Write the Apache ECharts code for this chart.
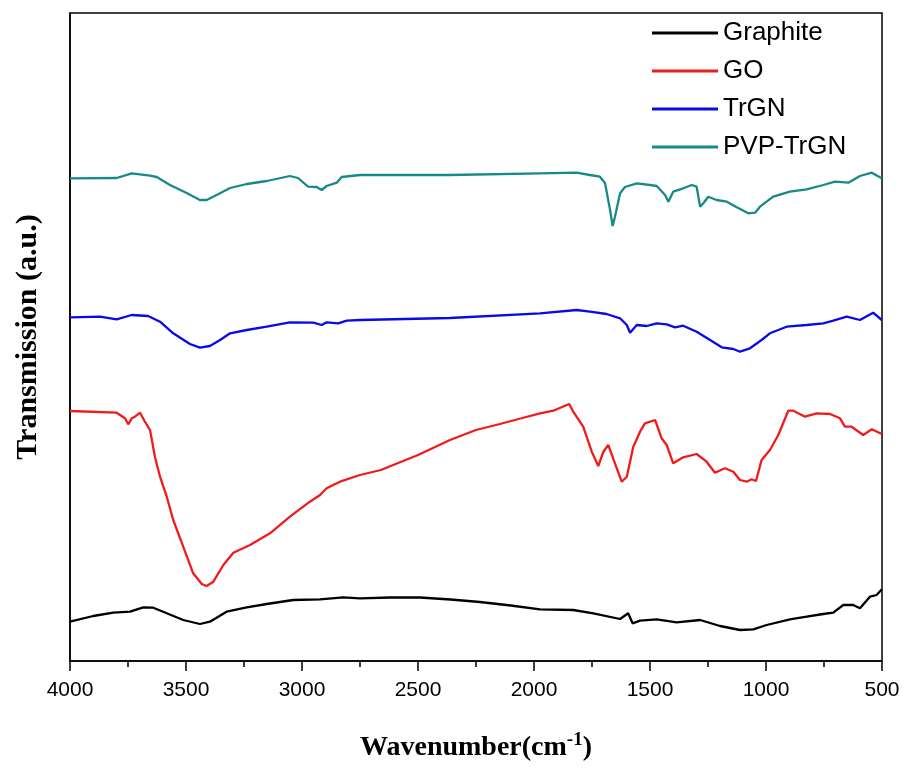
<!DOCTYPE html>
<html>
<head>
<meta charset="utf-8">
<script src="https://cdn.jsdelivr.net/npm/echarts@6/dist/echarts.min.js"></script>
<style>html,body{margin:0;padding:0;background:#fff;}#chart{width:906px;height:769px;}</style>
</head>
<body>
<div id="chart"></div>
<script>
// Wavenumber tick labels (reversed axis)
const xTicks = [4000, 3500, 3000, 2500, 2000, 1500, 1000, 500];
const seriesNames = ['Graphite', 'GO', 'TrGN', 'PVP-TrGN'];

// Graphite
const graphiteX = [4000,3900,3813,3741,3684,3641,3583,3512,3440,3397,3325,3238,3152,3038,2922,2822,2750,2620,2491,2360,2233,2100,1974,1831,1744,1629,1594,1575,1543,1471,1385,1284,1198,1112,1055,997,897,825,753,710,667,624,595,552,523,501];
const graphiteY = [39.3,45,48.3,49.3,53.7,53.3,47.7,41,37,39.3,49.3,53.7,57,61,61.7,63.7,62.7,63.5,63.5,61.5,59,55.5,51.7,51,47.7,42,47.7,37.7,40.3,41.7,38.7,41,35,31,31.7,36,41.7,44.3,47,48.3,56,56,52.7,64.3,66,71.7];

// GO
const goX = [4000,3799,3763,3749,3734,3720,3698,3677,3655,3634,3612,3583,3555,3512,3469,3432,3411,3382,3339,3296,3224,3138,3052,2966,2922,2894,2836,2750,2660,2500,2362,2250,2147,2050,1974,1917,1859,1848,1831,1788,1751,1723,1701,1680,1651,1622,1600,1572,1543,1522,1478,1450,1428,1400,1357,1299,1256,1220,1177,1141,1112,1083,1062,1043,1019,983,947,904,882,832,782,724,681,660,631,581,544,501];
const goY = [250,248.3,242.7,236.7,242.7,244.3,248.3,239.3,231,204.3,184.3,164.3,141,114.3,87.7,77,75,79.3,96,108.3,116,127.7,144.3,159.3,166,172.7,179.3,186,191,206,221,231,237,243,247.7,250.3,256,257,249.3,234.3,209.3,195,209.3,216,197.7,179.3,184.3,214.3,229.3,237.7,241,222.7,216,197.7,203.7,207,199.3,188.3,192.7,189.3,181,179.3,181.7,180,201,211,226,250.3,250.3,244.3,247.7,247,242.7,234.3,234.3,226,231.7,227];

// TrGN
const trgnX = [4000,3871,3799,3734,3663,3612,3555,3483,3440,3397,3353,3310,3238,3152,3052,2951,2915,2894,2844,2807,2750,2362,1974,1816,1759,1687,1629,1600,1586,1557,1514,1471,1428,1392,1357,1299,1241,1191,1141,1112,1069,1019,983,911,825,753,710,652,595,538,501];
const trgnY = [343.7,344.3,341.7,346,345,339.3,327.7,317,313.3,315,321,327.7,331,334.3,338.7,338.3,336,338.7,337.7,340.3,341,343,347.7,351,349.3,347,342.7,336,328.3,336,335,337.7,336.7,333.7,335.3,329.3,321,313.7,312,309.3,312.7,321,327.7,334.3,336,337.7,340.3,344.3,341,348.3,341];

// PVP-TrGN
const pvpX = [4000,3799,3734,3655,3626,3569,3497,3440,3411,3368,3310,3238,3152,3052,3017,2974,2937,2915,2894,2850,2829,2750,2362,1974,1816,1759,1716,1694,1672,1661,1651,1629,1608,1557,1500,1471,1435,1421,1400,1357,1320,1299,1284,1270,1249,1213,1169,1126,1076,1047,1026,969,897,825,753,703,645,595,544,501];
const pvpY = [482.7,483,487.7,485.3,484,476,468,461,461,466,473,477,480,485,483,474.3,474,471,475,478.3,484,486,486,487.7,488.3,486,484.3,478,451,435,444.3,467.7,474,477.7,476,475,466,459.3,469.3,472.7,476,474.3,454.3,457.7,464.3,461,459.3,453.7,447.7,448.3,454.3,464.3,469.3,471.7,476,479.3,478.3,485,488.3,482.7];

const colors = ['#000000', '#ee1c1c', '#0a0ae6', '#178a87'];
const xs = [graphiteX, goX, trgnX, pvpX];
const ys = [graphiteY, goY, trgnY, pvpY];

const chart = echarts.init(document.getElementById('chart'));
const series = seriesNames.map((n, i) => ({
  name: n,
  type: 'line',
  symbol: 'none',
  smooth: false,
  data: xs[i].map((x, j) => [x, ys[i][j]]),
  lineStyle: { color: colors[i], width: 2.3 },
  itemStyle: { color: colors[i] },
  animation: false
}));

chart.setOption({
  animation: false,
  backgroundColor: '#fff',
  grid: { left: 70, right: 24, top: 13, bottom: 108, show: true, borderColor: '#000', borderWidth: 1.5, backgroundColor: 'transparent' },
  legend: {
    orient: 'vertical',
    left: 647,
    top: 15,
    icon: 'rect',
    itemWidth: 66,
    itemHeight: 3,
    itemGap: 12,
    data: seriesNames,
    textStyle: { fontFamily: 'Liberation Sans', fontSize: 26, color: '#000', padding: [0, 0, 0, 0] }
  },
  xAxis: {
    type: 'value',
    inverse: true,
    min: 500,
    max: 4000,
    interval: 500,
    splitLine: { show: false },
    axisLine: { show: true, onZero: false, lineStyle: { color: '#000', width: 1.5 } },
    axisTick: { show: true, inside: false, length: 10, lineStyle: { color: '#000', width: 1.5 } },
    minorTick: { show: true, splitNumber: 2, length: 6, lineStyle: { color: '#000', width: 1.5 } },
    axisLabel: { color: '#000', fontFamily: 'Liberation Sans', fontSize: 21, margin: 19,
      formatter: v => xTicks.includes(v) ? String(v) : '' },
    name: 'Wavenumber(cm{sup|-1})',
    nameLocation: 'middle',
    nameGap: 70,
    nameTextStyle: {
      color: '#000', fontFamily: 'Liberation Serif', fontWeight: 'bold', fontSize: 28,
      rich: { sup: { fontFamily: 'Liberation Serif', fontWeight: 'bold', fontSize: 19, color: '#000', verticalAlign: 'top', padding: [0, 0, 14, 0] } }
    }
  },
  yAxis: {
    type: 'value',
    min: 0,
    max: 648,
    splitLine: { show: false },
    axisLine: { show: true, lineStyle: { color: '#000', width: 1.5 } },
    axisTick: { show: false },
    axisLabel: { show: false },
    name: 'Transmission (a.u.)',
    nameLocation: 'middle',
    nameGap: 27,
    nameRotate: 90,
    nameTextStyle: { color: '#000', fontFamily: 'Liberation Serif', fontWeight: 'bold', fontSize: 30 }
  },
  series: series
});
</script>
</body>
</html>
